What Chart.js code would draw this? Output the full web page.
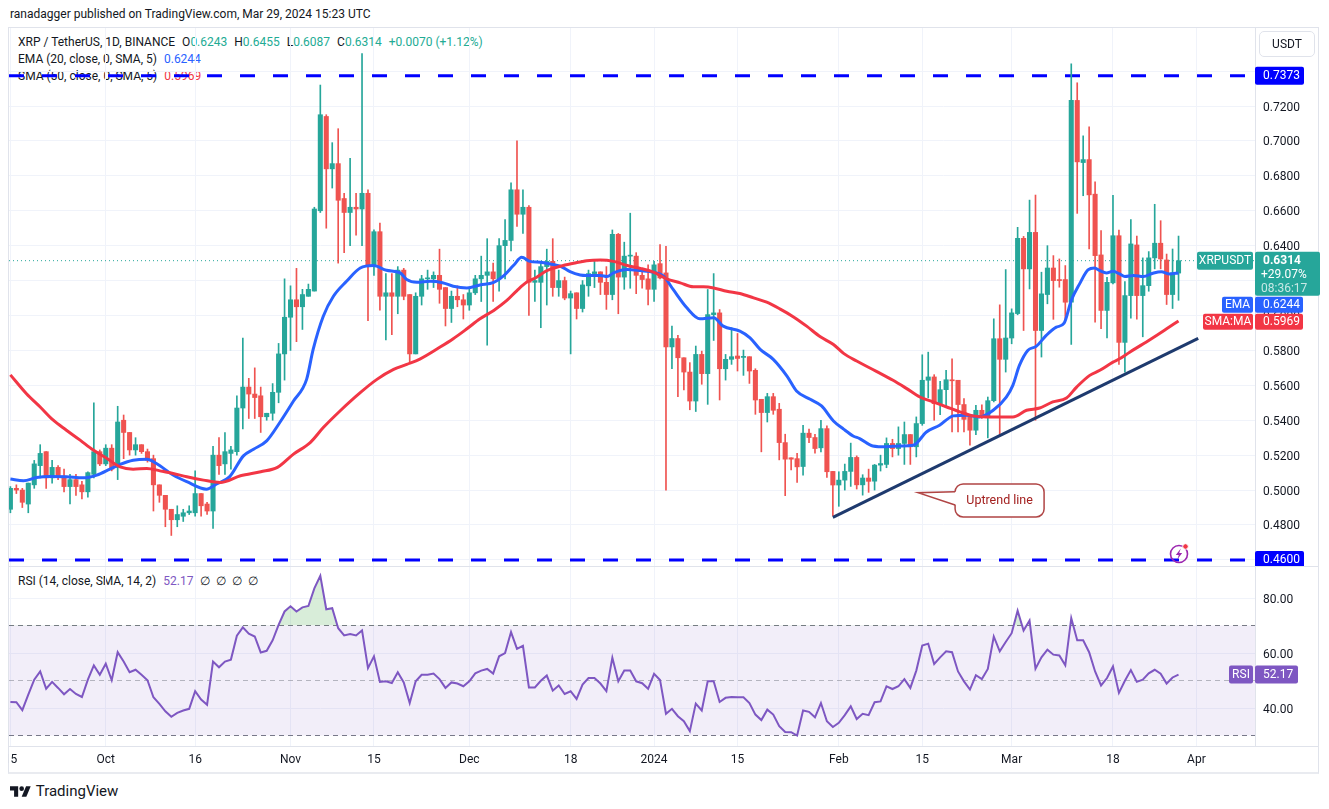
<!DOCTYPE html>
<html>
<head>
<meta charset="utf-8">
<title>XRP / TetherUS 1D</title>
<script src="https://cdn.jsdelivr.net/npm/chart.js@4.4.1/dist/chart.umd.min.js"></script>
<style>
  body { margin: 0; background: #fff; width: 1329px; height: 809px; position: relative; overflow: hidden;
         font-family: Roboto, "Noto Sans", sans-serif; color: #131722; }
  .abs { position: absolute; white-space: nowrap; }
  .legend { font-size: 12px; line-height: 14px; z-index: 1; }
  .legend span { margin-left: 7px; }
  #priceBox { left: 8px; top: 28px; width: 1321px; height: 538px; z-index: 2; }
  #rsiBox { left: 8px; top: 567px; width: 1321px; height: 206px; z-index: 2; }
  .hline { position: absolute; height: 1px; background: #e0e3eb; z-index: 3; }
</style>
</head>
<body>
<div class="abs" style="left:10px;top:7px;font-size:12px;">ranadagger published on TradingView.com, Mar 29, 2024 15:23 UTC</div>

<div class="abs" style="left:8px;top:27px;width:1311px;height:747px;border:1px solid #e0e3eb;border-bottom:2px solid #e9ebf0;box-sizing:border-box;"></div>
<div class="hline" style="left:8px;top:566px;width:1311px;"></div>
<div class="hline" style="left:8px;top:746px;width:1311px;"></div>

<div class="abs legend" style="left:18px;top:35px;">XRP / TetherUS, 1D, BINANCE<span>O<b style="font-weight:400;color:#22ab94">0.6243</b></span><span>H<b style="font-weight:400;color:#22ab94">0.6455</b></span><span>L<b style="font-weight:400;color:#22ab94">0.6087</b></span><span>C<b style="font-weight:400;color:#22ab94">0.6314</b></span><span style="color:#22ab94">+0.0070 (+1.12%)</span></div>
<div class="abs legend" style="left:18px;top:52px;">EMA (20, close, 0, SMA, 5)<span style="color:#2962ff">0.6244</span></div>
<div class="abs legend" style="left:18px;top:69px;">SMA (50, close, 0, SMA, 5)<span style="color:#f23645">0.5969</span></div>
<div class="abs legend" style="left:18px;top:574px;">RSI (14, close, SMA, 14, 2)<span style="color:#7e57c2">52.17</span><span>∅&nbsp;&nbsp;∅&nbsp;&nbsp;∅&nbsp;&nbsp;∅</span></div>

<div class="abs" style="left:1259px;top:31px;width:56px;height:26px;border:1px solid #e0e3eb;border-radius:5px;box-sizing:border-box;font-size:12px;line-height:24px;text-align:center;z-index:3;">USDT</div>

<div class="abs" id="priceBox"><canvas id="price"></canvas></div>
<div class="abs" id="rsiBox"><canvas id="rsi"></canvas></div>

<div class="abs" style="left:10px;top:783px;font-size:15px;line-height:16px;">
  <svg width="21" height="14" viewBox="0 0 36 24" style="vertical-align:-2px"><path d="M14 22H7V11H0V4h14v18z" fill="#131722"/><circle cx="20" cy="8" r="4" fill="#131722"/><path d="M28 22h-8l7.5-18h8L28 22z" fill="#131722"/></svg>
  <span style="margin-left:1px">TradingView</span>
</div>

<script>
// XRP/USDT daily candles, one entry per day from 15 Sep 2023 (day 0) to 29 Mar 2024 (day 196)
const opens = [
  0.489, 0.501, 0.500, 0.492, 0.503, 0.514, 0.522, 0.507, 0.513, 0.508,
  0.502, 0.506, 0.503, 0.499, 0.509, 0.522, 0.515, 0.524, 0.513, 0.540,
  0.533, 0.523, 0.526, 0.522, 0.518, 0.503, 0.497, 0.489, 0.483, 0.485,
  0.487, 0.487, 0.498, 0.492, 0.488, 0.520, 0.515, 0.521, 0.522, 0.547,
  0.559, 0.555, 0.554, 0.542, 0.544, 0.556, 0.578, 0.599, 0.609, 0.605,
  0.611, 0.614, 0.660, 0.714, 0.684, 0.687, 0.667, 0.659, 0.662, 0.661,
  0.670, 0.629, 0.648, 0.611, 0.613, 0.611, 0.626, 0.612, 0.578, 0.611,
  0.621, 0.621, 0.623, 0.616, 0.604, 0.611, 0.609, 0.606, 0.613, 0.621,
  0.623, 0.625, 0.621, 0.640, 0.643, 0.672, 0.658, 0.662, 0.619, 0.619,
  0.628, 0.631, 0.616, 0.620, 0.610, 0.613, 0.604, 0.617, 0.624, 0.625,
  0.619, 0.612, 0.6465, 0.622, 0.634, 0.634, 0.623, 0.621, 0.615, 0.6297,
  0.6244, 0.582, 0.5868, 0.5758, 0.5676, 0.551, 0.5777, 0.5667, 0.6005, 0.6015,
  0.5695, 0.5749, 0.5768, 0.5760, 0.5764, 0.5686, 0.552, 0.5444, 0.5535, 0.5463,
  0.5272, 0.5185, 0.518, 0.5135, 0.5326, 0.5301, 0.5242, 0.5352, 0.5107, 0.5029,
  0.5057, 0.5107, 0.5187, 0.5030, 0.5069, 0.5051, 0.5143, 0.5147, 0.5267, 0.5238,
  0.5267, 0.5318, 0.5248, 0.5381, 0.5629, 0.5648, 0.5495, 0.5575, 0.5629, 0.5629,
  0.549, 0.5419, 0.5343, 0.5457, 0.5423, 0.5512, 0.5867, 0.5749, 0.5871, 0.6011,
  0.6442, 0.6267, 0.6476, 0.5914, 0.612, 0.6272, 0.6206, 0.6206, 0.6076, 0.7232,
  0.6876, 0.6893, 0.6695, 0.6347, 0.6029, 0.6187, 0.6457, 0.5846, 0.6114, 0.6404,
  0.6114, 0.6171, 0.633, 0.6414, 0.6318, 0.612, 0.6243
];
const highs = [
  0.502, 0.503, 0.501, 0.504, 0.517, 0.526, 0.522, 0.517, 0.514, 0.512,
  0.509, 0.509, 0.505, 0.5105, 0.550, 0.523, 0.526, 0.526, 0.548, 0.543,
  0.533, 0.530, 0.526, 0.5235, 0.520, 0.503, 0.497, 0.489, 0.491, 0.489,
  0.491, 0.511, 0.498, 0.493, 0.525, 0.530, 0.533, 0.525, 0.554, 0.587,
  0.564, 0.570, 0.559, 0.544, 0.561, 0.584, 0.621, 0.617, 0.627, 0.615,
  0.618, 0.662, 0.732, 0.715, 0.699, 0.707, 0.670, 0.690, 0.670, 0.750,
  0.672, 0.649, 0.653, 0.624, 0.624, 0.628, 0.627, 0.612, 0.613, 0.623,
  0.626, 0.625, 0.638, 0.616, 0.614, 0.617, 0.612, 0.615, 0.623, 0.634,
  0.644, 0.630, 0.644, 0.655, 0.676, 0.700, 0.672, 0.663, 0.626, 0.631,
  0.638, 0.644, 0.626, 0.622, 0.614, 0.613, 0.620, 0.626, 0.631, 0.625,
  0.628, 0.649, 0.647, 0.642, 0.6586, 0.636, 0.6248, 0.629, 0.631, 0.6406,
  0.6396, 0.5939, 0.5886, 0.5758, 0.573, 0.5825, 0.5796, 0.6149, 0.624, 0.6034,
  0.5777, 0.593, 0.5897, 0.5802, 0.5764, 0.5695, 0.552, 0.5554, 0.5554, 0.5497,
  0.532, 0.5185, 0.5211, 0.5371, 0.5349, 0.532, 0.54, 0.5368, 0.5107, 0.5105,
  0.5149, 0.5269, 0.5196, 0.5088, 0.512, 0.5147, 0.520, 0.5299, 0.5291, 0.5362,
  0.539, 0.5318, 0.5419, 0.5775, 0.579, 0.5661, 0.5623, 0.5686, 0.5752, 0.5629,
  0.5524, 0.5419, 0.5486, 0.5489, 0.5533, 0.5981, 0.6061, 0.6263, 0.6038, 0.6505,
  0.6453, 0.6661, 0.669, 0.6248, 0.640, 0.6343, 0.6324, 0.6286, 0.7442, 0.7333,
  0.7029, 0.708, 0.6766, 0.6486, 0.6219, 0.6689, 0.6489, 0.6194, 0.6549, 0.6455,
  0.633, 0.6366, 0.6637, 0.6543, 0.6352, 0.6381, 0.6455
];
const lows = [
  0.487, 0.498, 0.490, 0.487, 0.501, 0.507, 0.501, 0.504, 0.506, 0.499,
  0.492, 0.497, 0.495, 0.496, 0.507, 0.514, 0.514, 0.511, 0.506, 0.518,
  0.520, 0.520, 0.521, 0.516, 0.488, 0.493, 0.479, 0.474, 0.479, 0.482,
  0.486, 0.485, 0.485, 0.486, 0.478, 0.509, 0.509, 0.512, 0.520, 0.535,
  0.541, 0.541, 0.533, 0.540, 0.540, 0.550, 0.563, 0.580, 0.585, 0.592,
  0.611, 0.614, 0.659, 0.650, 0.673, 0.630, 0.636, 0.640, 0.646, 0.640,
  0.597, 0.623, 0.603, 0.586, 0.589, 0.601, 0.609, 0.573, 0.578, 0.606,
  0.615, 0.616, 0.607, 0.594, 0.596, 0.605, 0.598, 0.603, 0.612, 0.608,
  0.583, 0.608, 0.614, 0.621, 0.637, 0.651, 0.647, 0.600, 0.608, 0.593,
  0.606, 0.611, 0.611, 0.609, 0.578, 0.598, 0.602, 0.611, 0.616, 0.612,
  0.6035, 0.609, 0.601, 0.615, 0.6156, 0.6125, 0.6156, 0.606, 0.608, 0.621,
  0.500, 0.5695, 0.5535, 0.5573, 0.546, 0.545, 0.5606, 0.5491, 0.5857, 0.5516,
  0.563, 0.572, 0.5682, 0.5657, 0.5611, 0.5434, 0.5219, 0.539, 0.5434, 0.5173,
  0.4968, 0.5116, 0.5044, 0.5086, 0.5272, 0.5211, 0.5219, 0.5072, 0.4853, 0.4907,
  0.500, 0.5021, 0.5006, 0.4971, 0.4987, 0.500, 0.5109, 0.5128, 0.519, 0.520,
  0.5147, 0.5147, 0.519, 0.5371, 0.5528, 0.540, 0.5432, 0.5482, 0.5333, 0.5333,
  0.5333, 0.5257, 0.5318, 0.541, 0.5299, 0.5505, 0.531, 0.5676, 0.5838, 0.6004,
  0.5914, 0.6152, 0.540, 0.5762, 0.6067, 0.5978, 0.6162, 0.5971, 0.5834, 0.6585,
  0.6686, 0.6381, 0.5962, 0.5924, 0.5872, 0.6181, 0.572, 0.5676, 0.5985, 0.5979,
  0.5878, 0.6139, 0.6267, 0.6267, 0.6063, 0.604, 0.6087
];
const closes = [
  0.501, 0.500, 0.493, 0.504, 0.515, 0.521, 0.507, 0.513, 0.508, 0.502,
  0.506, 0.502, 0.499, 0.510, 0.522, 0.515, 0.524, 0.512, 0.539, 0.533,
  0.523, 0.526, 0.522, 0.517, 0.503, 0.497, 0.489, 0.483, 0.486, 0.487,
  0.488, 0.498, 0.491, 0.488, 0.520, 0.514, 0.522, 0.523, 0.547, 0.559,
  0.555, 0.553, 0.542, 0.544, 0.556, 0.578, 0.599, 0.609, 0.605, 0.612,
  0.615, 0.661, 0.715, 0.684, 0.687, 0.666, 0.659, 0.662, 0.661, 0.670,
  0.629, 0.648, 0.611, 0.613, 0.611, 0.626, 0.611, 0.578, 0.611, 0.621,
  0.6215, 0.623, 0.615, 0.604, 0.611, 0.609, 0.606, 0.613, 0.621, 0.623,
  0.625, 0.621, 0.640, 0.643, 0.672, 0.658, 0.662, 0.619, 0.620, 0.628,
  0.631, 0.616, 0.620, 0.610, 0.6125, 0.604, 0.6175, 0.624, 0.625, 0.619,
  0.612, 0.6465, 0.622, 0.634, 0.6345, 0.623, 0.6206, 0.615, 0.629, 0.6215,
  0.582, 0.5868, 0.5758, 0.5676, 0.551, 0.5777, 0.5667, 0.6005, 0.6015, 0.5695,
  0.5749, 0.5764, 0.5754, 0.5764, 0.5682, 0.5516, 0.5444, 0.5535, 0.5457, 0.5272,
  0.5177, 0.5177, 0.5133, 0.5326, 0.5301, 0.5238, 0.5352, 0.5105, 0.5029, 0.5057,
  0.5107, 0.5187, 0.5030, 0.5069, 0.5050, 0.5143, 0.5152, 0.5267, 0.5238, 0.5267,
  0.5318, 0.5248, 0.5381, 0.5629, 0.5648, 0.5495, 0.5575, 0.5632, 0.5626, 0.549,
  0.5405, 0.5343, 0.5457, 0.5423, 0.5512, 0.5867, 0.5749, 0.5871, 0.6015, 0.6442,
  0.6267, 0.6476, 0.5914, 0.6124, 0.6272, 0.620, 0.620, 0.6076, 0.7232, 0.688,
  0.6893, 0.6691, 0.6343, 0.6029, 0.619, 0.6457, 0.5846, 0.6114, 0.641, 0.6114,
  0.6171, 0.633, 0.6414, 0.6324, 0.612, 0.6244, 0.6314
];

// EMA(20) and SMA(50): [day, value]
const emaDays = [0, 2.2, 4.4, 6.6, 9.4, 12.2, 14.5, 16.7, 18.4, 20.6, 22.9, 24.5, 27.3, 29.6, 32.9, 34.6, 36.8,
  39.1, 40.8, 43, 45.2, 47.5, 49.7, 50.8, 52.5, 54.2, 56.4, 58.7, 60.9, 63.1, 65.4, 66.5, 68.2, 70.4,
  72.5, 74.3, 76.6, 78.8, 81.1, 82.8, 84.4, 85.8, 87.2, 88.9, 90.6, 92.3, 93.9, 95.6, 96.7, 99, 100.1,
  101.2, 103.5, 105.7, 107.9, 109.6, 111.2, 113.5, 115.7, 118, 119.6, 122.4, 124.1, 125.8, 128, 130.3,
  131.9, 134.2, 136.1, 138.1, 139.8, 141.4, 142.5, 144.7, 147, 149.2, 151.5, 153.7, 155.9, 158.2, 160.4,
  162.6, 164.9, 167.1, 168.2, 169.3, 170.7, 172.1, 173.8, 175.5, 176.8, 178, 179.4, 180.8, 181.9, 182.8,
  183.9, 185, 186.1, 187, 188.4, 190.1, 191.7, 193.1, 194.5, 196];
const emaValues = [0.5063, 0.5053, 0.5072, 0.5078, 0.5076, 0.5070, 0.5086, 0.5120, 0.5147, 0.5171, 0.5177, 0.5152, 0.5086, 0.5048, 0.5005, 0.5035, 0.5077,
  0.5196, 0.5234, 0.5282, 0.5387, 0.5510, 0.5634, 0.5806, 0.5996, 0.6110, 0.6196, 0.6272, 0.6286, 0.6259, 0.6244, 0.6206, 0.6190, 0.6196,
  0.6188, 0.6168, 0.6158, 0.6175, 0.6190, 0.6229, 0.6286, 0.6333, 0.6310, 0.6305, 0.6295, 0.6282, 0.6251, 0.6232, 0.6229, 0.6229, 0.6223,
  0.6244, 0.6263, 0.6257, 0.6248, 0.6225, 0.6149, 0.6044, 0.5981, 0.5987, 0.5939, 0.5910, 0.5872, 0.5806, 0.5749, 0.5653,
  0.5568, 0.5520, 0.5482, 0.5396, 0.5349, 0.5310, 0.5295, 0.5253, 0.5248, 0.5253, 0.5257, 0.5333, 0.5371, 0.5425, 0.5429,
  0.5419, 0.5457, 0.5533, 0.5600, 0.5714, 0.5800, 0.5823, 0.5886, 0.5933, 0.5956, 0.6086, 0.6181, 0.6261, 0.6272, 0.6257,
  0.6244, 0.6253, 0.6238, 0.6223, 0.6229, 0.6223, 0.6242, 0.6251, 0.6238, 0.6244];
const smaDays = [0, 2.7, 5, 7.2, 9.4, 11.7, 13.9, 16.2, 18.4, 20.6, 22.9, 25.1, 27.3, 29.6, 32.4, 35.2, 38.6, 42,
  44.8, 47.5, 50.3, 52.5, 55.3, 58.7, 61.5, 64.3, 66.5, 68.7, 72.1, 74.3, 76.6, 78.8, 81.1, 83.3, 85, 86.6,
  88.3, 90, 92.3, 94.5, 96.7, 99, 101.2, 103.5, 105.7, 107.9, 110.1, 112.4, 114.6, 116.3, 118, 120.2, 122.4,
  124.7, 126.9, 129.1, 131.4, 133.6, 135.9, 138.1, 139.8, 142, 145.3, 148.1, 150.4, 152.6, 154.8, 157.1,
  159.3, 161.5, 163.8, 166, 168.2, 170.5, 172.7, 174.9, 177.2, 178.9, 181.1, 182.8, 185, 186.1, 187.8,
  190.1, 192.3, 194, 196];
const smaValues = [0.5660, 0.5552, 0.5476, 0.5400, 0.5343, 0.5286, 0.5229, 0.5181, 0.5133, 0.5120, 0.5124, 0.5110, 0.5095, 0.5076, 0.5057, 0.5044, 0.5082, 0.5105,
  0.5130, 0.5206, 0.5272, 0.5358, 0.5453, 0.5558, 0.5634, 0.5691, 0.5720, 0.5750, 0.5819, 0.5867, 0.5924, 0.5981, 0.6029, 0.6086, 0.6143, 0.6190,
  0.6219, 0.6257, 0.6282, 0.6299, 0.6314, 0.6318, 0.6310, 0.6286, 0.6270, 0.6248, 0.6210, 0.6187, 0.6164, 0.6164, 0.6158, 0.6139, 0.6126,
  0.6101, 0.6076, 0.6038, 0.5992, 0.5939, 0.5878, 0.5834, 0.5783, 0.5739, 0.5680, 0.5629, 0.5581, 0.5533, 0.5505, 0.5476,
  0.5448, 0.5425, 0.5419, 0.5419, 0.5419, 0.5457, 0.5470, 0.5505, 0.5528, 0.5590, 0.5657, 0.5686, 0.5733, 0.5752, 0.5790,
  0.5838, 0.5886, 0.5924, 0.5969];

// RSI(14), one value per day
const rsiValues = [
  42.2, 42.1, 39.2, 44.9, 50.3, 53.3, 47.0, 49.5, 47.3, 45.0,
  46.9, 45.1, 44.0, 50.3, 55.5, 52.1, 56.1, 50.1, 60.3, 56.9,
  53.0, 53.9, 52.1, 50.1, 43.9, 41.5, 38.8, 36.8, 38.2, 39.1,
  39.7, 46.1, 43.1, 41.2, 56.9, 54.8, 56.9, 57.6, 66.3, 69.3,
  67.0, 66.0, 60.2, 60.8, 64.6, 70.2, 75.1, 77.0, 75.1, 76.6,
  77.1, 83.5, 88.1, 75.9, 76.3, 69.0, 66.4, 66.9, 66.4, 68.2,
  54.5, 58.8, 49.5, 49.7, 49.1, 53.0, 49.3, 41.8, 49.7, 52.1,
  52.1, 52.5, 50.5, 47.3, 49.3, 48.9, 47.9, 49.7, 52.6, 53.6,
  54.2, 52.5, 58.8, 60.0, 67.6, 61.5, 62.6, 47.5, 47.5, 49.9,
  51.8, 46.3, 48.2, 45.1, 46.1, 43.3, 48.5, 50.9, 50.9, 48.9,
  46.1, 58.3, 49.7, 53.6, 53.6, 49.7, 49.0, 47.0, 52.4, 50.2,
  37.9, 39.7, 37.0, 35.2, 31.6, 41.6, 39.1, 49.7, 49.7, 42.2,
  43.7, 44.0, 43.9, 43.9, 41.8, 37.6, 35.6, 39.4, 37.6, 33.4,
  31.3, 31.2, 30.0, 39.1, 38.6, 36.6, 41.8, 35.2, 33.1, 34.6,
  37.4, 40.6, 36.0, 37.9, 37.4, 42.1, 42.4, 47.9, 46.9, 47.9,
  50.5, 47.3, 53.6, 62.7, 63.4, 56.0, 58.4, 60.6, 60.3, 53.3,
  49.7, 46.7, 51.9, 50.5, 54.2, 66.0, 60.6, 64.0, 67.2, 75.4,
  68.2, 71.8, 54.3, 58.4, 61.2, 59.4, 59.1, 55.5, 72.7, 64.6,
  64.6, 60.3, 53.3, 48.2, 50.9, 55.1, 45.5, 49.9, 53.8, 49.5,
  50.3, 52.6, 53.9, 52.5, 48.9, 51.1, 52.17
];

const tickDays = [0, 16, 31, 47, 61, 77, 94, 108, 122, 139, 153, 168, 185, 199];
const tickLabels = ['15', 'Oct', '16', 'Nov', '15', 'Dec', '18', '2024', '15', 'Feb', '15', 'Mar', '18', 'Apr'];
const priceTicks = [0.46, 0.48, 0.50, 0.52, 0.54, 0.56, 0.58, 0.60, 0.62, 0.64, 0.66, 0.68, 0.70, 0.72, 0.74];
const rsiTicks = [40, 60, 80];
const resistance = 0.7373;
const support = 0.46;
const trendDays = [138, 199.3];
const trendValues = [0.4844, 0.5869];

const X_MIN = -0.235, X_MAX = 208.83;
const UP = '#26a69a', DOWN = '#ef5350';
const GRID = '#f0f3fa';
const last = closes.length - 1;

Chart.defaults.font.family = 'Roboto, "Noto Sans", sans-serif';
Chart.defaults.font.size = 12;
Chart.defaults.color = '#131722';

const candleColors = closes.map((c, i) => c >= opens[i] ? UP : DOWN);
const bodies = closes.map((c, i) => ({ x: i, y: [opens[i], c] }));
const wicks = closes.map((c, i) => ({ x: i, y: [lows[i], highs[i]] }));
const pairs = (xs, ys) => xs.map((v, k) => ({ x: v, y: ys[k] }));
const flat = v => [{ x: X_MIN, y: v }, { x: X_MAX, y: v }];

function tag(ctx, left, top, w, h, bg, text, color, align) {
  ctx.fillStyle = bg;
  ctx.beginPath();
  ctx.roundRect(left, top, w, h, 2);
  ctx.fill();
  ctx.fillStyle = color;
  ctx.textBaseline = 'middle';
  ctx.textAlign = align || 'left';
  ctx.fillText(text, align === 'center' ? left + w / 2 : left + 8, top + h / 2 + 0.5);
}

const priceTags = {
  id: 'priceTags',
  afterDraw(chart) {
    const { ctx, chartArea: a, scales: { x, y } } = chart;
    ctx.save();
    ctx.font = '12px Roboto, "Noto Sans", sans-serif';
    // level labels
    tag(ctx, a.right, y.getPixelForValue(resistance) - 9, 49, 18, '#0000ff', resistance.toFixed(4), '#fff');
    tag(ctx, a.right, y.getPixelForValue(support) - 9, 49, 18, '#0000ff', support.toFixed(4), '#fff');
    // last price block
    const yc = y.getPixelForValue(closes[last]);
    const top = yc - 9;
    tag(ctx, a.right, top, 65, 44, UP, '', '#fff');
    ctx.fillStyle = '#fff';
    ctx.textAlign = 'left';
    ctx.font = 'bold 12px Roboto, "Noto Sans", sans-serif';
    ctx.fillText(closes[last].toFixed(4), a.right + 8, yc + 0.5);
    ctx.font = '12px Roboto, "Noto Sans", sans-serif';
    ctx.fillText('+29.07%', a.right + 6, yc + 14.5);
    ctx.fillStyle = 'rgba(255,255,255,0.75)';
    ctx.fillText('08:36:17', a.right + 6, yc + 28);
    tag(ctx, a.right - 58, yc - 9, 56, 18, UP, 'XRPUSDT', '#fff', 'center');
    // moving averages, stacked under the price block
    const emaTop = top + 45, smaTop = emaTop + 17;
    tag(ctx, a.right, emaTop, 48, 16, '#2962ff', emaValues[emaValues.length - 1].toFixed(4), '#fff');
    tag(ctx, a.right - 33, emaTop, 31, 16, '#2962ff', 'EMA', '#fff', 'center');
    tag(ctx, a.right, smaTop, 48, 16, '#f23645', smaValues[smaValues.length - 1].toFixed(4), '#fff');
    tag(ctx, a.right - 52, smaTop, 50, 16, '#f23645', 'SMA:MA', '#fff', 'center');

    // "Uptrend line" callout
    const tipX = x.getPixelForValue(152.3), tipY = y.getPixelForValue(0.4985);
    const bl = tipX + 37, bt = tipY - 8.7, bw = 89, bh = 33;
    ctx.lineWidth = 1.5;
    ctx.strokeStyle = '#b04444';
    ctx.fillStyle = '#fff';
    ctx.beginPath();
    ctx.roundRect(bl, bt, bw, bh, 8);
    ctx.fill();
    ctx.stroke();
    ctx.beginPath();
    ctx.moveTo(tipX, tipY);
    ctx.lineTo(bl + 1.5, tipY - 1);
    ctx.lineTo(bl + 1.5, tipY + 12.3);
    ctx.closePath();
    ctx.fill();
    ctx.beginPath();
    ctx.moveTo(bl, tipY - 1);
    ctx.lineTo(tipX, tipY);
    ctx.lineTo(bl, tipY + 12.3);
    ctx.stroke();
    ctx.fillStyle = '#a3201f';
    ctx.textAlign = 'center';
    ctx.textBaseline = 'middle';
    ctx.font = '12.5px Roboto, "Noto Sans", sans-serif';
    ctx.fillText('Uptrend line', bl + bw / 2, bt + bh / 2 + 0.5);

    // lightning icon near the bottom right
    const ix = a.right - 76, iy = a.bottom - 12;
    ctx.strokeStyle = '#9c27b0';
    ctx.lineWidth = 1.6;
    ctx.beginPath();
    ctx.arc(ix, iy, 8.5, 0, Math.PI * 2);
    ctx.stroke();
    ctx.fillStyle = '#9c27b0';
    ctx.beginPath();
    ctx.moveTo(ix + 1.8, iy - 5.5);
    ctx.lineTo(ix - 3.2, iy + 1);
    ctx.lineTo(ix - 0.2, iy + 1);
    ctx.lineTo(ix - 1.8, iy + 5.5);
    ctx.lineTo(ix + 3.2, iy - 1);
    ctx.lineTo(ix + 0.2, iy - 1);
    ctx.closePath();
    ctx.fill();
    ctx.fillStyle = '#f23645';
    ctx.strokeStyle = '#fff';
    ctx.lineWidth = 1;
    ctx.beginPath();
    ctx.arc(ix + 6.5, iy - 7.5, 2.8, 0, Math.PI * 2);
    ctx.fill();
    ctx.stroke();
    ctx.restore();
  }
};

new Chart(document.getElementById('price'), {
  type: 'bar',
  data: {
    datasets: [
      { type: 'line', data: pairs(trendDays, trendValues), borderColor: '#1e3a6e', borderWidth: 3, pointRadius: 0, order: 0 },
      { type: 'line', data: pairs(smaDays, smaValues), borderColor: '#f23645', borderWidth: 3, pointRadius: 0, cubicInterpolationMode: 'monotone', order: 1 },
      { type: 'line', data: pairs(emaDays, emaValues), borderColor: '#2962ff', borderWidth: 3, pointRadius: 0, cubicInterpolationMode: 'monotone', order: 2 },
      { data: bodies, backgroundColor: candleColors, barThickness: 4.4, minBarLength: 1, grouped: false, order: 3 },
      { data: wicks, backgroundColor: candleColors, barThickness: 1, grouped: false, order: 4 },
      { type: 'line', data: flat(closes[last]), borderColor: UP, borderWidth: 1, borderDash: [1, 3], pointRadius: 0, order: 5 },
      { type: 'line', data: flat(resistance), borderColor: '#0000ff', borderWidth: 3, borderDash: [15, 18], pointRadius: 0, order: 6 },
      { type: 'line', data: flat(support), borderColor: '#0000ff', borderWidth: 3, borderDash: [15, 18], pointRadius: 0, order: 7 }
    ]
  },
  options: {
    responsive: true,
    maintainAspectRatio: false,
    animation: false,
    events: [],
    layout: { padding: { left: 1, right: 0, top: 0, bottom: 0 } },
    plugins: { legend: { display: false }, tooltip: { enabled: false } },
    scales: {
      x: {
        type: 'linear', min: X_MIN, max: X_MAX, offset: false, stacked: false,
        grid: { color: GRID, drawTicks: false, offset: false },
        border: { display: false },
        ticks: { display: false },
        afterBuildTicks: s => { s.ticks = tickDays.map(v => ({ value: v })); },
        afterFit: s => { s.height = 0; s.paddingLeft = 0; s.paddingRight = 0; }
      },
      y: {
        position: 'right', min: 0.456511, max: 0.764679,
        grid: { color: GRID, drawTicks: false },
        border: { color: '#e0e3eb' },
        ticks: { padding: 8, labelOffset: 1.5, callback: v => Number(v).toFixed(4) },
        afterBuildTicks: s => { s.ticks = priceTicks.map(v => ({ value: v })); },
        afterFit: s => { s.width = 74; s.paddingTop = 0; s.paddingBottom = 0; }
      }
    }
  },
  plugins: [priceTags]
});

const rsiTag = {
  id: 'rsiTag',
  afterDraw(chart) {
    const { ctx, chartArea: a, scales: { y } } = chart;
    ctx.save();
    ctx.font = '12px Roboto, "Noto Sans", sans-serif';
    const yr = y.getPixelForValue(rsiValues[last]);
    tag(ctx, a.right, yr - 9, 43, 18, '#7e57c2', rsiValues[last].toFixed(2), '#fff');
    tag(ctx, a.right - 26, yr - 9, 24, 18, '#7e57c2', 'RSI', '#fff', 'center');
    ctx.restore();
  }
};

new Chart(document.getElementById('rsi'), {
  type: 'line',
  data: {
    datasets: [
      { data: rsiValues.map((v, i) => ({ x: i, y: v })), borderColor: '#7e57c2', borderWidth: 2, pointRadius: 0,
        fill: { target: { value: 70 }, above: 'rgba(76,175,80,0.22)', below: 'rgba(0,0,0,0)' }, order: 0 },
      { data: flat(70), borderColor: '#787b86', borderWidth: 1, borderDash: [5, 4], pointRadius: 0,
        fill: '+1', backgroundColor: 'rgba(126,87,194,0.1)', order: 2 },
      { data: flat(30), borderColor: '#787b86', borderWidth: 1, borderDash: [5, 4], pointRadius: 0, fill: false, order: 3 },
      { data: flat(50), borderColor: 'rgba(120,123,134,0.5)', borderWidth: 1, borderDash: [5, 4], pointRadius: 0, fill: false, order: 1 }
    ]
  },
  options: {
    responsive: true,
    maintainAspectRatio: false,
    animation: false,
    events: [],
    layout: { padding: { left: 1, right: 0, top: 0, bottom: 0 } },
    plugins: { legend: { display: false }, tooltip: { enabled: false } },
    scales: {
      x: {
        type: 'linear', min: X_MIN, max: X_MAX,
        grid: { color: GRID, drawTicks: false },
        border: { display: false },
        ticks: { padding: 7, autoSkip: false, maxRotation: 0, callback: v => tickLabels[tickDays.indexOf(v)] },
        afterBuildTicks: s => { s.ticks = tickDays.map(v => ({ value: v })); },
        afterFit: s => { s.height = 27; s.paddingLeft = 0; s.paddingRight = 0; }
      },
      y: {
        position: 'right', min: 26.182, max: 91.273,
        grid: { color: GRID, drawTicks: false },
        border: { color: '#e0e3eb' },
        ticks: { padding: 8, labelOffset: 1.5, callback: v => Number(v).toFixed(2) },
        afterBuildTicks: s => { s.ticks = rsiTicks.map(v => ({ value: v })); },
        afterFit: s => { s.width = 74; s.paddingTop = 0; s.paddingBottom = 0; }
      }
    }
  },
  plugins: [rsiTag]
});
</script>
</body>
</html>
